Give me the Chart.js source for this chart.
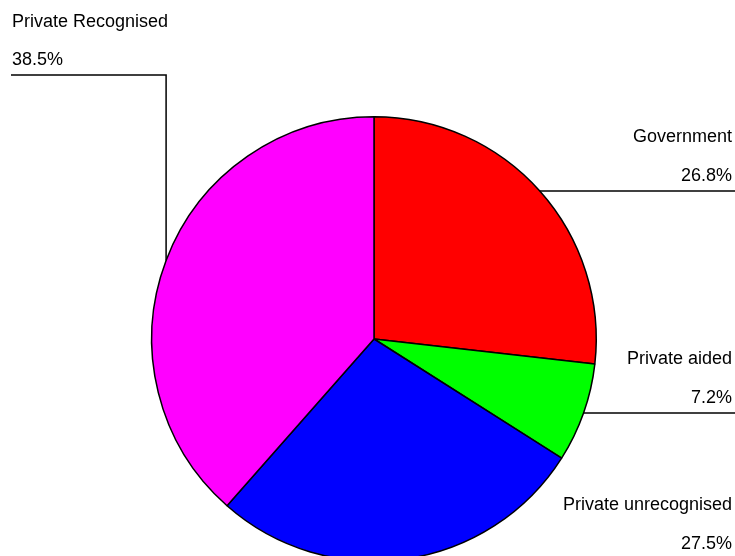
<!DOCTYPE html>
<html>
<head>
<meta charset="utf-8">
<script src="https://cdn.jsdelivr.net/npm/chart.js@4/dist/chart.umd.min.js"></script>
<style>
  html, body { margin: 0; padding: 0; background: #fff; overflow: hidden; }
  #wrap { position: relative; width: 735px; height: 600px; }
</style>
</head>
<body>
<div id="wrap"><canvas id="schoolchart"></canvas></div>
<script>
const categories = ['Government', 'Private aided', 'Private unrecognised', 'Private Recognised'];
const shares = [26.8, 7.2, 27.5, 38.5];
const sliceColors = ['#ff0000', '#00ff00', '#0000ff', '#ff00ff'];

// draws the labels with the elbow leader lines
const leaderLabels = {
    id: 'leaderLabels',
    afterDatasetsDraw(chart) {
        const ctx = chart.ctx;
        const meta = chart.getDatasetMeta(0);
        const W = chart.width;
        ctx.save();
        ctx.font = '18px "Liberation Sans", Arial, sans-serif';
        ctx.fillStyle = '#000';
        ctx.strokeStyle = '#000';
        ctx.lineWidth = 1.5;
        ctx.textBaseline = 'middle';
        meta.data.forEach((arc, i) => {
            const p = arc.getProps(['x', 'y', 'startAngle', 'endAngle', 'outerRadius'], true);
            const mid = (p.startAngle + p.endAngle) / 2;
            const ax = p.x + Math.cos(mid) * p.outerRadius;
            const ay = p.y + Math.sin(mid) * p.outerRadius;
            const pct = shares[i].toFixed(1) + '%';
            ctx.beginPath();
            if (ax >= p.x) {
                ctx.moveTo(ax, ay);
                ctx.lineTo(W, ay);
                ctx.stroke();
                ctx.textAlign = 'right';
                ctx.fillText(categories[i], W - 3, ay - 54);
                ctx.fillText(pct, W - 3, ay - 15);
            } else {
                const elbowY = 75;
                ctx.moveTo(ax, ay);
                ctx.lineTo(ax, elbowY);
                ctx.lineTo(11, elbowY);
                ctx.stroke();
                ctx.textAlign = 'left';
                ctx.fillText(categories[i], 12, elbowY - 53);
                ctx.fillText(pct, 12, elbowY - 15);
            }
        });
        ctx.restore();
    }
};

new Chart(document.getElementById('schoolchart').getContext('2d'), {
    type: 'pie',
    data: {
        labels: categories,
        datasets: [{
            data: shares,
            backgroundColor: sliceColors,
            borderColor: '#000',
            borderWidth: 1.5
        }]
    },
    options: {
        responsive: true,
        maintainAspectRatio: false,
        animation: false,
        layout: { padding: { top: 116, bottom: 38, left: 151, right: 138 } },
        plugins: {
            legend: { display: false },
            tooltip: { enabled: false }
        }
    },
    plugins: [leaderLabels]
});
</script>
</body>
</html>
